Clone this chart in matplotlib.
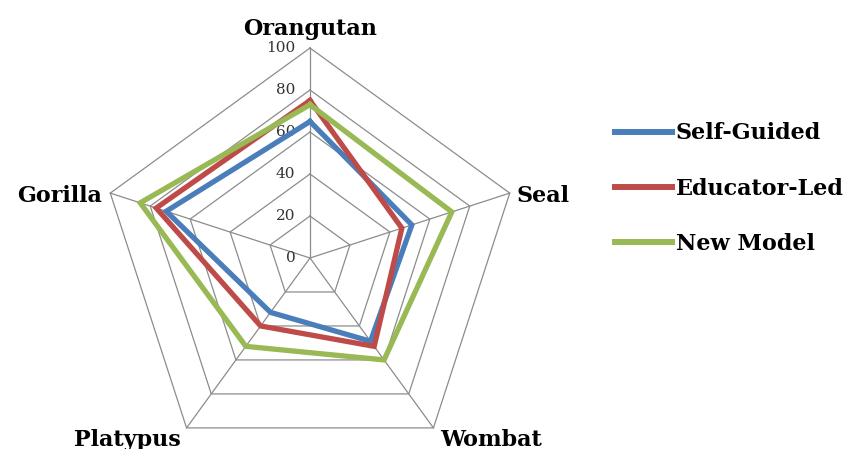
import numpy as np
import matplotlib.pyplot as plt

categories = ["Orangutan", "Seal", "Wombat", "Platypus", "Gorilla"]
self_guided = [65, 51, 49, 32, 72]
educator_led = [75, 46, 52, 40, 77]
new_model = [73, 71, 60, 52, 85]
ticks = [0, 20, 40, 60, 80, 100]

series = [
    ("Self-Guided", self_guided, "#4A7EBB"),
    ("Educator-Led", educator_led, "#BE4B48"),
    ("New Model", new_model, "#98B954"),
]

SERIF = ["DejaVu Serif"]

# angles: start at top, go clockwise
n = len(categories)
angles = np.pi / 2 - np.arange(n) * 2 * np.pi / n
ux, uy = np.cos(angles), np.sin(angles)


def to_xy(values):
    v = np.asarray(values, dtype=float)
    x = np.append(v * ux, v[0] * ux[0])
    y = np.append(v * uy, v[0] * uy[0])
    return x, y


fig = plt.figure(figsize=(8.51, 4.49), dpi=100)
ax = fig.add_axes([0, 0, 1, 1])
scale = 2.1  # px per unit
ax.set_xlim(-310 / scale, (851 - 310) / scale)
ax.set_ylim(-(449 - 258) / scale, 258 / scale)
ax.axis("off")

# pentagon grid
grid_col = "#8C8C8C"
for t in ticks[1:]:
    gx, gy = to_xy([t] * n)
    ax.plot(gx, gy, color=grid_col, lw=0.9, zorder=1)
for i in range(n):
    ax.plot([0, 100 * ux[i]], [0, 100 * uy[i]], color=grid_col, lw=0.9, zorder=1)

# tick labels
for t in ticks:
    ax.text(-7, t, str(t), ha="right", va="center", fontsize=11,
            family=SERIF, color="#333333")

# data
for name, vals, col in series:
    sx, sy = to_xy(vals)
    ax.plot(sx, sy, color=col, lw=3.8, solid_joinstyle="miter", label=name, zorder=3)

# category labels
lab = dict(fontsize=16, fontweight="bold", family=SERIF)
ax.text(0, 104, categories[0], ha="center", va="bottom", **lab)
ax.text(100 * ux[1] + 3, 100 * uy[1] - 1.5, categories[1], ha="left", va="center", **lab)
ax.text(100 * ux[2] + 3, 100 * uy[2] - 0.5, categories[2], ha="left", va="top", **lab)
ax.text(100 * ux[3] - 3, 100 * uy[3] - 0.5, categories[3], ha="right", va="top", **lab)
ax.text(100 * ux[4] - 4, 100 * uy[4] - 1.5, categories[4], ha="right", va="center", **lab)

leg = ax.legend(loc="upper left", bbox_to_anchor=(0.699, 0.772), frameon=False,
                prop={"family": SERIF, "weight": "bold", "size": 16},
                handlelength=2.55, handletextpad=0.2, labelspacing=1.5)
for ln in leg.get_lines():
    ln.set_linewidth(4.3)

fig.savefig("out.png", dpi=100)
